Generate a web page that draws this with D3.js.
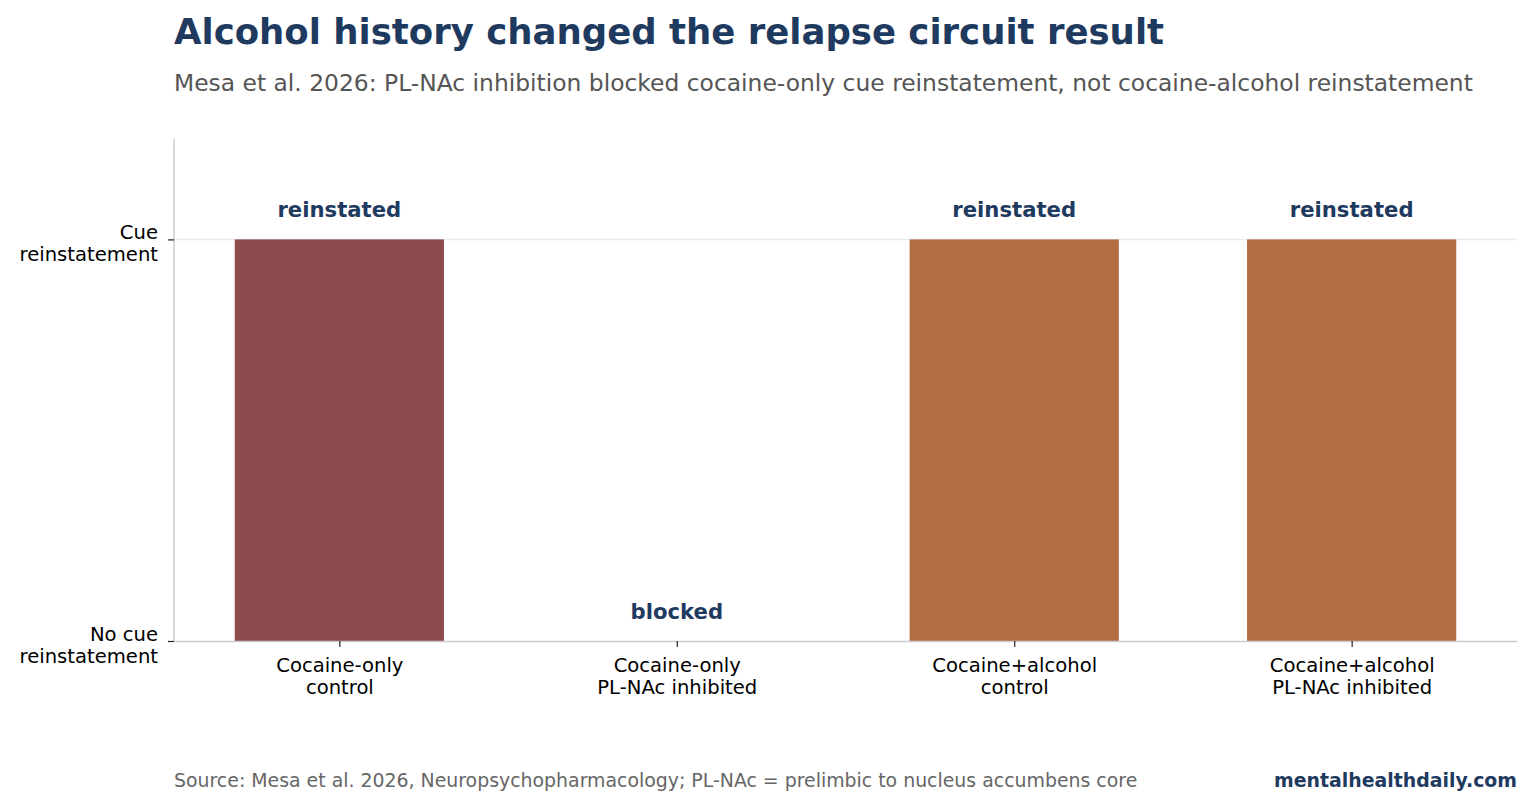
<!DOCTYPE html>
<html>
<head>
<meta charset="utf-8">
<script src="https://cdn.jsdelivr.net/npm/d3@7"></script>
<style>
  body { margin: 0; background: #fff; }
  text { font-family: "DejaVu Sans", sans-serif; }
</style>
</head>
<body>
<div id="chart"></div>
<script>
// data
const groups = ["Cocaine-only\ncontrol", "Cocaine-only\nPL-NAc inhibited", "Cocaine+alcohol\ncontrol", "Cocaine+alcohol\nPL-NAc inhibited"];
const reinstatement = [1, 0, 1, 1];
const outcomes = ["reinstated", "blocked", "reinstated", "reinstated"];
const barColors = ["#8c4c4d", "#b26d43", "#b26d43", "#b26d43"];
const yTickValues = [0, 1];
const yTickLabels = ["No cue\nreinstatement", "Cue\nreinstatement"];

function plot_chart() {
    const W = 1533, H = 806;
    const margin = {top: 139, right: 16, bottom: 165, left: 174};
    const width = W - margin.left - margin.right,
        height = H - margin.top - margin.bottom;

    const svg = d3.select("#chart")
        .append("svg")
        .attr("width", W)
        .attr("height", H);

    // title + subtitle
    svg.append("text")
        .attr("x", margin.left).attr("y", 44)
        .text("Alcohol history changed the relapse circuit result")
        .style("font-size", "35.5px").style("font-weight", "bold")
        .style("fill", "#1f3a5f");
    svg.append("text")
        .attr("x", margin.left).attr("y", 91)
        .text("Mesa et al. 2026: PL-NAc inhibition blocked cocaine-only cue reinstatement, not cocaine-alcohol reinstatement")
        .style("font-size", "23.4px")
        .style("fill", "#555");

    const g = svg.append("g")
        .attr("transform", "translate(" + margin.left + "," + margin.top + ")");

    const idx = d3.range(groups.length);
    const xScale = d3.scaleLinear()
        .domain([-0.49, 3.49])
        .range([0, width]);
    const yScale = d3.scaleLinear()
        .domain([0, 1.25])
        .range([height, 0]);
    const barW = 0.62;

    // gridline
    g.append("g")
        .selectAll("line")
        .data(yTickValues.filter(d => d > 0))
        .join("line")
        .attr("x1", 0).attr("x2", width)
        .attr("y1", d => yScale(d)).attr("y2", d => yScale(d))
        .attr("stroke", "#ebebeb").attr("stroke-width", 1.5);

    // bars
    g.selectAll("rect.bar")
        .data(idx)
        .join("rect")
        .attr("class", "bar")
        .attr("x", i => xScale(i - barW / 2))
        .attr("width", i => xScale(i + barW / 2) - xScale(i - barW / 2))
        .attr("y", i => yScale(reinstatement[i]))
        .attr("height", i => yScale(0) - yScale(reinstatement[i]))
        .attr("fill", i => barColors[i]);

    // value labels
    g.selectAll("text.val")
        .data(idx)
        .join("text")
        .attr("class", "val")
        .attr("x", i => xScale(i))
        .attr("y", i => yScale(reinstatement[i] + 0.055))
        .attr("text-anchor", "middle")
        .text(i => outcomes[i])
        .style("font-size", "21.2px").style("font-weight", "bold")
        .style("fill", "#1f3a5f");

    // x axis
    const xAxis = g.append("g")
        .attr("transform", "translate(0," + height + ")")
        .call(d3.axisBottom(xScale).tickValues(idx).tickSize(6).tickSizeOuter(0).tickFormat(""));
    xAxis.select(".domain").attr("stroke", "#cccccc").attr("stroke-width", 1.5);
    xAxis.selectAll(".tick line").attr("stroke", "#222").attr("stroke-width", 1.2);
    xAxis.selectAll(".tick").each(function (i) {
        const lines = groups[i].split("\n");
        d3.select(this).append("text")
            .attr("text-anchor", "middle")
            .attr("fill", "#000")
            .style("font-size", "19.6px")
            .selectAll("tspan")
            .data(lines)
            .join("tspan")
            .attr("x", 0)
            .attr("y", (d, k) => 31 + k * 22)
            .text(d => d);
    });

    // y axis
    const yAxis = g.append("g")
        .call(d3.axisLeft(yScale).tickValues(yTickValues).tickSize(6).tickSizeOuter(0).tickFormat(""));
    yAxis.select(".domain").attr("stroke", "#cccccc").attr("stroke-width", 1.5)
        .attr("d", "M0," + height + "V0");
    yAxis.selectAll(".tick line").attr("stroke", "#222").attr("stroke-width", 1.2);
    yAxis.selectAll(".tick").each(function (v) {
        const lines = yTickLabels[yTickValues.indexOf(v)].split("\n");
        d3.select(this).append("text")
            .attr("text-anchor", "end")
            .attr("fill", "#000")
            .style("font-size", "19.6px")
            .selectAll("tspan")
            .data(lines)
            .join("tspan")
            .attr("x", -16)
            .attr("y", (d, k) => -1 + k * 22)
            .text(d => d);
    });

    // footer
    svg.append("text")
        .attr("x", margin.left).attr("y", 787)
        .text("Source: Mesa et al. 2026, Neuropsychopharmacology; PL-NAc = prelimbic to nucleus accumbens core")
        .style("font-size", "18.9px").style("fill", "#666");
    svg.append("text")
        .attr("x", W - margin.right).attr("y", 787)
        .attr("text-anchor", "end")
        .text("mentalhealthdaily.com")
        .style("font-size", "18.9px").style("font-weight", "bold")
        .style("fill", "#1f3a5f");
}

plot_chart();
</script>
</body>
</html>
